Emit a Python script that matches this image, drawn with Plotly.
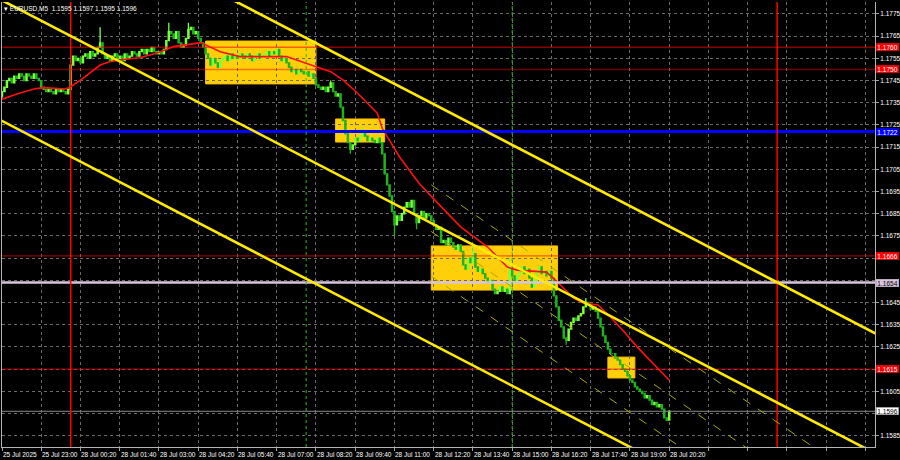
import plotly.graph_objects as go

# ---------------- data (EURUSD M5) ----------------
first_open = 1.1738
closes = [
    1.1740, 1.1742, 1.1745, 1.1746, 1.1744, 1.1747, 1.1746, 1.1748,
    1.1747, 1.1745, 1.1748, 1.1747, 1.1746, 1.1748, 1.1746, 1.1745,
    1.1742, 1.1741, 1.1740, 1.1741, 1.1740, 1.1739, 1.1741, 1.1740,
    1.1741, 1.1740, 1.1739, 1.1741,
    1.1752,
    1.1756, 1.1754, 1.1755, 1.1753, 1.1756, 1.1757, 1.1755,
    1.1758, 1.1756, 1.1757, 1.1760,
    1.1762,
    1.1757, 1.1755, 1.1756, 1.1754, 1.1756, 1.1757, 1.1755,
    1.1756, 1.1754, 1.1757, 1.1755, 1.1756, 1.1758, 1.1757, 1.1756,
    1.1758, 1.1759, 1.1757, 1.1759, 1.1758, 1.1760, 1.1758, 1.1757,
    1.1758, 1.1757, 1.1759, 1.1763,
    1.1767,
    1.1766, 1.1764, 1.1767,
    1.1762, 1.1760, 1.1761,
    1.1764, 1.1768, 1.1769, 1.1766,
    1.1767, 1.1764, 1.1762, 1.1760,
    1.1757, 1.1755, 1.1752, 1.1755, 1.1753, 1.1751, 1.1754, 1.1755,
    1.1756, 1.1754, 1.1757, 1.1755,
    1.1756, 1.1755, 1.1757, 1.1756, 1.1755, 1.1757, 1.1756, 1.1754, 1.1756, 1.1757, 1.1755, 1.1756,
    1.1757, 1.1758, 1.1756, 1.1758, 1.1757, 1.1759,
    1.1756, 1.1754, 1.1755, 1.1753,
    1.1751, 1.1749, 1.1750, 1.1748, 1.1750, 1.1749,
    1.1748, 1.1749, 1.1747, 1.1748, 1.1746,
    1.1743, 1.1742, 1.1741, 1.1742, 1.1740, 1.1742,
    1.1744,
    1.1740, 1.1738, 1.1739,
    1.1733, 1.1727,
    1.1721, 1.1717, 1.1714, 1.1716, 1.1719, 1.1718, 1.1720,
    1.1722, 1.1720, 1.1718, 1.1719,
    1.1718, 1.1717, 1.1719, 1.1717,
    1.1712,
    1.1703, 1.1698, 1.1693,
    1.1686, 1.1680, 1.1684,
    1.1682, 1.1685, 1.1688,
    1.1690, 1.1688, 1.1691,
    1.1685, 1.1681, 1.1684,
    1.1686, 1.1683, 1.1685,
    1.1684, 1.1682, 1.1680,
    1.1678, 1.1679, 1.1672,
    1.1673, 1.1671, 1.1674, 1.1672, 1.1670,
    1.1669, 1.1671, 1.1668,
    1.1662, 1.1660,
    1.1665, 1.1663, 1.1667,
    1.1661, 1.1659, 1.1660, 1.1658,
    1.1656, 1.1654, 1.1655,
    1.1651, 1.1649, 1.1650,
    1.1652, 1.1650, 1.1651, 1.1649,
    1.1660,
    1.1657, 1.1655, 1.1657,
    1.1659, 1.1661, 1.1658, 1.1660,
    1.1656, 1.1652, 1.1655,
    1.1659, 1.1661, 1.1658,
    1.1659, 1.1657, 1.1659, 1.1656,
    1.1648, 1.1643,
    1.1637, 1.1634, 1.1629,
    1.1628,
    1.1633, 1.1636, 1.1638,
    1.1637, 1.1639, 1.1640,
    1.1643, 1.1645, 1.1644,
    1.1642, 1.1643, 1.1641,
    1.1638, 1.1634, 1.1630,
    1.1627, 1.1624, 1.1622,
    1.1622, 1.1620, 1.1619,
    1.1617, 1.1615, 1.1614,
    1.1612, 1.1610, 1.1609,
    1.1607, 1.1606, 1.1605,
    1.1604, 1.1602, 1.1603,
    1.1601, 1.1599, 1.1600,
    1.1598, 1.1599, 1.1597,
    1.1593, 1.1592,
    1.1596,
]
spike_highs = {40: 1.1769, 68: 1.1771, 76: 1.1771, 134: 1.1745, 147: 1.1724,
               192: 1.1670, 207: 1.1665, 238: 1.1647}
spike_lows = {0: 1.1737, 142: 1.1712, 160: 1.1675, 169: 1.1678, 230: 1.1626,
              271: 1.1592}

# moving average readings (bar index, value)
ma_bars = [0, 7, 13, 17, 26, 28, 33, 40, 44, 48, 56, 63, 70, 75, 81, 89, 97,
           116, 122, 128, 134, 139, 145, 153, 155, 162, 170, 179, 187, 198,
           206, 210, 222, 226, 233, 237, 243, 248, 253, 259, 264, 269, 272]
ma_vals = [1.17366, 1.17393, 1.17412, 1.17418, 1.17412, 1.17422, 1.17460,
           1.17520, 1.17535, 1.17543, 1.17553, 1.17573, 1.17603, 1.17610,
           1.17621, 1.17580, 1.17558, 1.17558, 1.17535, 1.17513, 1.17490,
           1.17453, 1.17393, 1.17303, 1.17235, 1.17107, 1.16987, 1.16882,
           1.16791, 1.16700, 1.16610, 1.16596, 1.16587, 1.16547, 1.16470,
           1.16448, 1.16439, 1.16385, 1.16326, 1.16249, 1.16191, 1.16132,
           1.16100]

time_label_bars = list(range(0, 273, 16))
time_labels = ["25 Jul 2025", "25 Jul 23:00", "28 Jul 00:20", "28 Jul 01:40",
               "28 Jul 03:00", "28 Jul 04:20", "28 Jul 05:40", "28 Jul 07:00",
               "28 Jul 08:20", "28 Jul 09:40", "28 Jul 11:00", "28 Jul 12:20",
               "28 Jul 13:40", "28 Jul 15:00", "28 Jul 16:20", "28 Jul 17:40",
               "28 Jul 19:00", "28 Jul 20:20"]
price_ticks = [round(1.1585 + 0.001 * i, 4) for i in range(20)]
# scale labels hidden behind the level boxes in the reference
hidden_ticks = [1.1665, 1.1655, 1.1615, 1.1595]

# horizontal levels: (price, colour, opacity, width, label bg, label fg)
levels = [
    (1.1760, "#ff0000", 0.55, 1.5, "#ff0000", "#ffffff"),
    (1.1750, "#ff0000", 0.45, 1.5, "#ff0000", "#ffffff"),
    (1.1722, "#0000ff", 1.0, 3, "#0000ff", "#ffffff"),
    (1.1666, "#ff0000", 0.7, 1, "#ff0000", "#ffffff"),
    (1.1654, "#d8c4dc", 1.0, 2.5, "#d8c4dc", "#000000"),
    (1.1615, "#ff0000", 0.7, 1, "#ff0000", "#ffffff"),
    (1.1596, "#8a8a8a", 1.0, 1, "#ffffff", "#000000"),
]
red_vlines = [28, 316]
green_vlines = [124, 208]

# rectangles: (bar0, bar1, price_low, price_high)
boxes = [
    (83, 128, 1.17435, 1.17628),
    (136, 156, 1.17173, 1.17277),
    (175, 226.5, 1.16506, 1.16705),
    (247, 258, 1.16110, 1.16204),
]
# channel trend lines: (bar0, price0, bar1, price1)
channel = [
    (80, 1.17894, 370, 1.16231),
    (-5, 1.17840, 360, 1.15747),
    (-5, 1.17297, 270, 1.15719),
]
# regression channel (dashed)
regression = [
    (175, 1.16980, 360, 1.15577),
    (175, 1.16770, 360, 1.15367),
    (175, 1.16569, 360, 1.15166),
]

# ---------------- build ----------------
opens = [first_open] + closes[:-1]
highs = [max(spike_highs.get(i, 0), o, c) for i, (o, c) in enumerate(zip(opens, closes))]
lows = [min(spike_lows.get(i, 9), o, c) for i, (o, c) in enumerate(zip(opens, closes))]
bars = list(range(len(closes)))

fig = go.Figure()
fig.add_trace(go.Candlestick(
    x=bars, open=opens, high=highs, low=lows, close=closes,
    increasing=dict(line=dict(color="#7dff3c", width=1.3), fillcolor="#7dff3c"),
    decreasing=dict(line=dict(color="#1db41d", width=1.3), fillcolor="#1db41d"),
    hoverinfo="skip",
))
fig.add_trace(go.Scatter(x=ma_bars, y=ma_vals, mode="lines",
                         line=dict(color="#ff1010", width=1.6), hoverinfo="skip"))

shapes = []
for b0, b1, p0, p1 in boxes:
    shapes.append(dict(type="rect", xref="x", yref="y", x0=b0, x1=b1, y0=p0, y1=p1,
                       fillcolor="#ffcf0a", line=dict(color="#ffc000", width=1),
                       layer="below"))
for p, col, op, w, _, _ in levels:
    shapes.append(dict(type="line", xref="paper", yref="y", x0=0, x1=1, y0=p, y1=p,
                       line=dict(color=col, width=w), opacity=op, layer="above"))
for b in red_vlines:
    shapes.append(dict(type="line", xref="x", yref="paper", x0=b, x1=b, y0=0, y1=1,
                       line=dict(color="#ff0000", width=1.5), layer="above"))
for b in green_vlines:
    shapes.append(dict(type="line", xref="x", yref="paper", x0=b, x1=b, y0=0, y1=1,
                       line=dict(color="#22c022", width=1, dash="dot"), layer="above"))
for b0, p0, b1, p1 in regression:
    shapes.append(dict(type="line", xref="x", yref="y", x0=b0, x1=b1, y0=p0, y1=p1,
                       line=dict(color="#a8a800", width=1, dash="dash"), layer="above"))
for b0, p0, b1, p1 in channel:
    shapes.append(dict(type="line", xref="x", yref="y", x0=b0, x1=b1, y0=p0, y1=p1,
                       line=dict(color="#ffea00", width=2.6), layer="above"))

FONT = "Liberation Sans"
annotations = []
for b, t in zip(time_label_bars, time_labels):
    annotations.append(dict(x=b, xref="x", y=0, yref="paper", text=t, showarrow=False,
                            xanchor="left", yanchor="top", yshift=-2, xshift=-1,
                            font=dict(family=FONT, size=6.5, color="#ffffff")))
for p, col, op, w, bg, fg in levels:
    annotations.append(dict(x=1, xref="paper", y=p, yref="y", text=f"{p:.4f}",
                            showarrow=False, xanchor="left", yanchor="middle",
                            xshift=1, width=22, height=7, align="center",
                            bgcolor=bg, borderpad=0,
                            bordercolor="#808080" if bg == "#ffffff" else bg, borderwidth=0.5,
                            font=dict(family=FONT, size=6.5, color=fg)))
annotations.append(dict(x=0, xref="paper", y=1, yref="paper",
                        text="\u25be EURUSD,M5  1.1595 1.1597 1.1595 1.1596",
                        showarrow=False, xanchor="left", yanchor="top", xshift=0, yshift=-1,
                        font=dict(family=FONT, size=6.5, color="#ffffff")))

fig.update_layout(
    width=900, height=460,
    margin=dict(l=2, r=25, t=2, b=13, autoexpand=False),
    paper_bgcolor="#000000", plot_bgcolor="#000000",
    showlegend=False, shapes=shapes, annotations=annotations,
    xaxis=dict(range=[0, 355.9], rangeslider=dict(visible=False),
               tickvals=list(range(0, 356, 16)), showticklabels=False,
               ticks="outside", ticklen=3, tickcolor="#a0a0a0",
               showgrid=True, gridcolor="#6a6a6a", gridwidth=1, griddash="3px,3px",
               showline=True, linecolor="#b4b4b4", linewidth=1, zeroline=False,
               fixedrange=True),
    yaxis=dict(range=[1.15799, 1.17804], side="right",
               tickvals=price_ticks,
               ticktext=["" if v in hidden_ticks else f"{v:.4f}" for v in price_ticks],
               ticks="outside", ticklen=3, tickcolor="#a0a0a0",
               tickfont=dict(family=FONT, size=6.5, color="#ffffff"),
               showgrid=True, gridcolor="#6a6a6a", gridwidth=1, griddash="3px,3px",
               showline=True, mirror=True, linecolor="#b4b4b4", linewidth=1,
               zeroline=False, fixedrange=True),
)
fig.write_html(
    "out.html",
    config={"displayModeBar": False},
    post_script="document.body.style.margin='0';document.body.style.background='#000';",
)
